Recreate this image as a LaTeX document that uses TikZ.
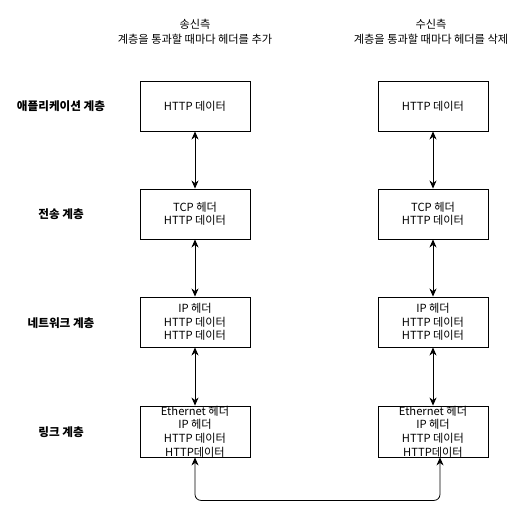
\documentclass[tikz,border=0pt]{standalone}
\usepackage{fontspec}
\setmainfont{Noto Sans CJK KR}
\usetikzlibrary{arrows.meta}
\tikzset{
  layerbox/.style={draw, line width=0.9pt, minimum width=110pt, minimum height=50pt,
    inner sep=0pt, align=center, font=\fontsize{11.2}{13.6}\selectfont},
  layername/.style={font=\fontsize{11.6}{13}\selectfont\bfseries},
  sidehead/.style={align=center, font=\fontsize{11.2}{15}\selectfont},
  link/.style={line width=0.8pt, {Stealth[length=8pt,width=7pt,inset=2.5pt]}-{Stealth[length=8pt,width=7pt,inset=2.5pt]}}
}
\begin{document}
\begin{tikzpicture}[x=1pt,y=-1pt]
  \useasboundingbox (0,0) rectangle (532,529);
  \draw
    (195,32) node[sidehead] (sendhead){송신측\\계층을 통과할 때마다 헤더를 추가}
    (431,32) node[sidehead] (recvhead){수신측\\계층을 통과할 때마다 헤더를 삭제}
    (61,106) node[layername] (appname){애플리케이션 계층}
    (61,214) node[layername] (tcpname){전송 계층}
    (61,323) node[layername] (ipname){네트워크 계층}
    (61,432) node[layername] (linkname){링크 계층}
    (195,106) node[layerbox] (sapp){HTTP 데이터}
    (195,214) node[layerbox] (stcp){TCP 헤더\\HTTP 데이터}
    (195,322) node[layerbox] (sip){IP 헤더\\HTTP 데이터\\HTTP 데이터}
    (195,431.5) node[layerbox] (slink){Ethernet 헤더\\IP 헤더\\HTTP 데이터\\HTTP데이터}
    (433,106) node[layerbox] (rapp){HTTP 데이터}
    (433,214) node[layerbox] (rtcp){TCP 헤더\\HTTP 데이터}
    (433,322) node[layerbox] (rip){IP 헤더\\HTTP 데이터\\HTTP 데이터}
    (433,431.5) node[layerbox] (rlink){Ethernet 헤더\\IP 헤더\\HTTP 데이터\\HTTP데이터};
  \begin{scope}[link]
    \draw (sapp) to (stcp);
    \draw (stcp) to (sip);
    \draw (sip) to (slink);
    \draw (rapp) to (rtcp);
    \draw (rtcp) to (rip);
    \draw (rip) to (rlink);
    \draw[rounded corners=6pt] (slink.south) -- ++(0,43) -| ([xshift=7pt]rlink.south);
  \end{scope}
\end{tikzpicture}
\end{document}
